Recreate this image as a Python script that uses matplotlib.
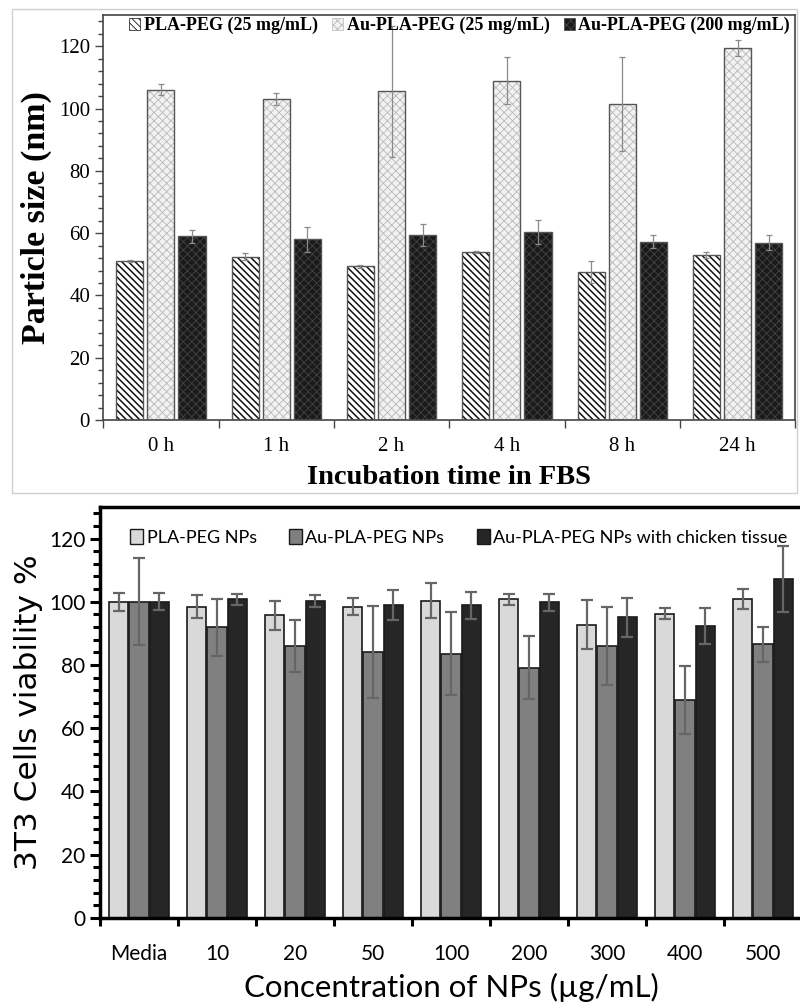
import numpy as np
import matplotlib
matplotlib.use('Agg')
from matplotlib import pyplot as plt
from matplotlib.patches import Patch, Rectangle
from matplotlib.ticker import MultipleLocator, FixedLocator

# top panel: particle size in FBS
times = ['0 h', '1 h', '2 h', '4 h', '8 h', '24 h']
pla_peg = [51.0, 52.5, 49.3, 54.0, 47.5, 53.0]
pla_peg_err = [0.3, 1.0, 0.5, 0.3, 3.5, 1.0]
au25 = [106.0, 103.0, 105.5, 109.0, 101.5, 119.5]
au25_err = [1.8, 2.0, 21.0, 7.5, 15.0, 2.5]
au200 = [59.0, 58.0, 59.3, 60.3, 57.3, 57.0]
au200_err = [2.0, 4.0, 3.5, 3.8, 2.0, 2.3]
top_labels = ['PLA-PEG (25 mg/mL)', 'Au-PLA-PEG (25 mg/mL)', 'Au-PLA-PEG (200 mg/mL)']

# bottom panel: 3T3 viability
conc = ['Media', '10', '20', '50', '100', '200', '300', '400', '500']
via_pla = [100.0, 98.5, 95.7, 98.5, 100.3, 100.8, 92.8, 96.2, 100.8]
via_pla_err = [2.8, 3.7, 4.5, 2.8, 5.5, 1.8, 7.8, 1.7, 3.2]
via_au = [100.0, 92.0, 86.0, 84.1, 83.6, 79.1, 86.0, 69.0, 86.5]
via_au_err = [13.7, 9.0, 8.2, 14.5, 13.2, 10.0, 12.2, 10.7, 5.5]
via_tissue = [100.0, 100.8, 100.3, 98.9, 98.9, 99.9, 95.1, 92.4, 107.2]
via_tissue_err = [2.7, 1.8, 1.8, 4.8, 4.2, 2.7, 6.2, 5.6, 10.5]
bot_labels = ['PLA-PEG NPs', 'Au-PLA-PEG NPs', 'Au-PLA-PEG NPs with chicken tissue']

plt.rcParams['hatch.linewidth'] = 1.0
fig = plt.figure(figsize=(8, 10.05), dpi=100)

# ---------------- top ----------------
ax1 = fig.add_axes([0.129, 0.582, 0.865, 0.403])
x = np.arange(len(times))
w = 0.235
off = 0.27
styles = [('white', '\\\\\\\\\\', '#111111', 1.1),
          ('#f2f2f2', 'xxxx', '#b8b8b8', 0.6),
          ('#1a1a1a', 'xxxx', '#444444', 0.6)]
series = [(pla_peg, pla_peg_err), (au25, au25_err), (au200, au200_err)]
for i, ((vals, err), (fc, hatch, hc, hlw)) in enumerate(zip(series, styles)):
    pos = x + (i - 1) * off
    plt.rcParams['hatch.linewidth'] = hlw
    bars = ax1.bar(pos, vals, w, color=fc, hatch=hatch, edgecolor=hc, linewidth=0, zorder=2)
    for b in bars:
        if hasattr(b, 'set_hatch_linewidth'):
            b.set_hatch_linewidth(hlw)
    ax1.bar(pos, vals, w, fill=False, edgecolor='#555555', linewidth=1.0, zorder=3)
    ax1.errorbar(pos, vals, yerr=err, fmt='none', ecolor='#8a8a8a', elinewidth=0.9,
                 capsize=2, capthick=0.9, zorder=4)

ax1.set_xlim(-0.5, len(times) - 0.5)
ax1.set_ylim(0, 130)
ax1.yaxis.set_major_locator(FixedLocator([0, 20, 40, 60, 80, 100, 120]))
ax1.yaxis.set_minor_locator(MultipleLocator(4))
ax1.xaxis.set_major_locator(FixedLocator(np.arange(len(times) + 1) - 0.5))
ax1.xaxis.set_minor_locator(FixedLocator(x))
ax1.set_xticklabels([])
ax1.set_xticklabels(times, minor=True)
ax1.tick_params(axis='x', which='major', direction='out', length=6, width=1.0, color='#444444')
ax1.tick_params(axis='x', which='minor', length=0, pad=12)
ax1.tick_params(axis='y', which='major', direction='out', length=6, width=1.0, color='#444444')
ax1.tick_params(axis='y', which='minor', direction='out', length=3.5, width=1.0, color='#444444')
for t in ax1.get_xticklabels(minor=True) + ax1.get_yticklabels():
    t.set_fontfamily('Liberation Serif')
    t.set_fontsize(15)
for s in ax1.spines.values():
    s.set_color('#444444')
    s.set_linewidth(1.2)
ax1.set_ylabel('Particle size (nm)', fontfamily='Liberation Serif', fontweight='bold',
               fontsize=24.5, labelpad=5)
ax1.set_xlabel('Incubation time in FBS', fontfamily='Liberation Serif', fontweight='bold',
               fontsize=20.5, labelpad=7)

handles = []
for fc, hatch, hc, hlw in styles:
    handles.append(Patch(facecolor=fc, hatch=hatch, edgecolor=hc, linewidth=0.5))
ax1.legend(handles, top_labels, loc='upper center', bbox_to_anchor=(0.515, 1.035), ncol=3,
           frameon=False, handlelength=0.6, handleheight=0.6, handletextpad=0.2,
           columnspacing=0.8, prop={'family': 'Liberation Serif', 'weight': 'bold', 'size': 13})

fig.add_artist(Rectangle((0.015, 0.5095), 0.981, 0.482, transform=fig.transFigure,
                         fill=False, edgecolor='#d0d0d0', linewidth=1.0))

# ---------------- bottom ----------------
ax2 = fig.add_axes([0.125, 0.0866, 0.8775, 0.409])
x2 = np.arange(len(conc))
w2 = 0.245
off2 = 0.26
cols = ['#d9d9d9', '#808080', '#262626']
series2 = [(via_pla, via_pla_err), (via_au, via_au_err), (via_tissue, via_tissue_err)]
for i, ((vals, err), c) in enumerate(zip(series2, cols)):
    pos = x2 + (i - 1) * off2
    ax2.bar(pos, vals, w2, color=c, edgecolor='#1a1a1a', linewidth=1.2, zorder=2)
    ax2.errorbar(pos, vals, yerr=err, fmt='none', ecolor='#666666', elinewidth=1.6,
                 capsize=4, capthick=1.6, zorder=4)

ax2.set_xlim(-0.5, len(conc) - 0.5)
ax2.set_ylim(0, 130)
ax2.yaxis.set_major_locator(FixedLocator([0, 20, 40, 60, 80, 100, 120]))
ax2.yaxis.set_minor_locator(MultipleLocator(4))
ax2.xaxis.set_major_locator(FixedLocator(np.arange(len(conc) + 1) - 0.5))
ax2.xaxis.set_minor_locator(FixedLocator(x2))
ax2.set_xticklabels([])
ax2.set_xticklabels(conc, minor=True)
ax2.tick_params(axis='x', which='major', direction='out', length=6, width=2.2, color='black')
ax2.tick_params(axis='x', which='minor', length=0, pad=19)
ax2.tick_params(axis='y', which='major', direction='out', length=7, width=2.2, color='black')
ax2.tick_params(axis='y', which='minor', direction='out', length=5, width=2.2, color='black')
for t in ax2.get_xticklabels(minor=True) + ax2.get_yticklabels():
    t.set_fontfamily('Lato')
    t.set_fontsize(15)
for s in ax2.spines.values():
    s.set_color('black')
    s.set_linewidth(2.5)
ax2.set_ylabel('3T3 Cells viability %', fontfamily='DejaVu Sans', fontsize=22.5, labelpad=4)
ax2.set_xlabel('Concentration of NPs (µg/mL)', fontfamily='Lato', fontsize=22.5, labelpad=6)

handles2 = [Patch(facecolor=c, edgecolor='#1a1a1a', linewidth=1.0) for c in cols]
ax2.legend(handles2, bot_labels, loc='upper left', bbox_to_anchor=(0.02, 0.985), ncol=3,
           frameon=False, handlelength=0.7, handleheight=0.9, handletextpad=0.2,
           columnspacing=1.8, prop={'family': 'Lato', 'size': 13})

fig.savefig('out.png', dpi=100)
